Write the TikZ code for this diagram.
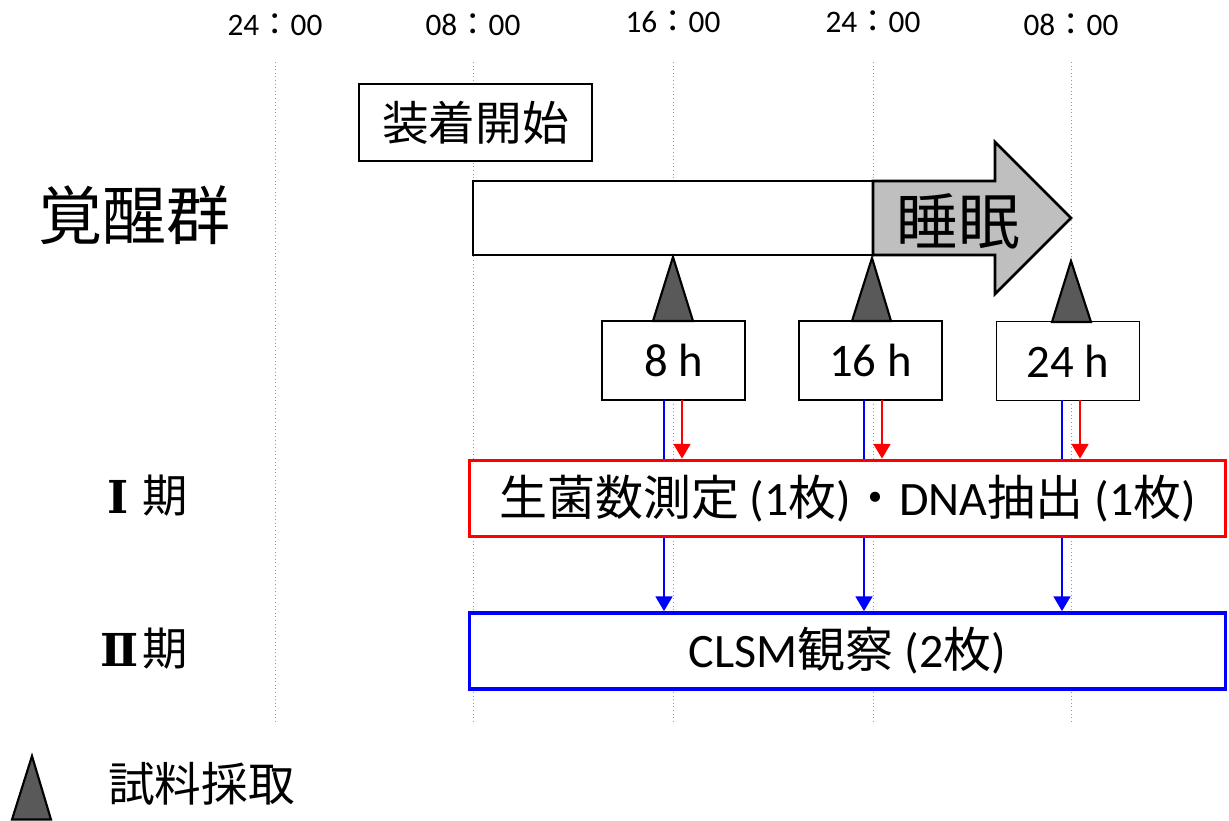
\documentclass[tikz,border=0pt]{standalone}
\usepackage{fontspec}
\usetikzlibrary{arrows.meta}
\setmainfont{Carlito}
\newfontfamily\cjk{Noto Sans CJK JP}
\newfontfamily\romnum{DejaVu Serif}
\newcommand\jp[1]{{\cjk #1}}
\begin{document}
\begin{tikzpicture}[x=0.75pt,y=-0.75pt,
  dotline/.style={draw=gray!80, dotted, line width=0.7pt},
  timelbl/.style={inner sep=0pt, font=\fontsize{23.5}{26}\selectfont},
  hourbox/.style={draw=black, line width=1.2pt, fill=white, inner sep=0pt,
    minimum width=107pt, minimum height=59pt, font=\fontsize{35}{40}\selectfont},
  startbox/.style={draw=black, line width=1.2pt, fill=white, inner sep=0pt,
    minimum width=175pt, minimum height=58pt, font=\cjk\fontsize{35}{40}\selectfont},
  phasebox/.style={line width=2.8pt, fill=white, inner sep=0pt,
    minimum width=567pt, minimum height=57pt, font=\fontsize{36}{40}\selectfont},
  sampletri/.style={draw=black, line width=1.6pt, fill=black!65, line join=miter},
  redarr/.style={draw=red, line width=1.8pt, -{Triangle[length=11pt,width=12.5pt]}},
  bluearr/.style={draw=blue, line width=1.8pt, -{Triangle[length=11pt,width=12.5pt]}},
  blueline/.style={draw=blue, line width=1.8pt},
  roman/.style={inner sep=0pt, font=\romnum\bfseries\fontsize{34}{38}\selectfont},
  ki/.style={inner sep=0pt, font=\cjk\fontsize{34}{38}\selectfont},
  lbl/.style={inner sep=0pt}]
\useasboundingbox (0,0) rectangle (1229,821);

% dotted time grid
\foreach \x/\n in {275/a,473/b,673/c,873/d,1071/e}{
  \coordinate (top\n) at (\x,62);
  \coordinate (bot\n) at (\x,722);
  \draw[dotline] (top\n) -- (bot\n);
}

% time labels
\node[timelbl] (ta) at (275,25) {24\jp{：}00};
\node[timelbl] (tb) at (473,25) {08\jp{：}00};
\node[timelbl] (tc) at (673,22) {16\jp{：}00};
\node[timelbl] (td) at (873,22) {24\jp{：}00};
\node[timelbl] (te) at (1071,25) {08\jp{：}00};

% group label
\node[lbl, font=\cjk\fontsize{48}{52}\selectfont] (grp) at (134,215) {覚醒群};

% start box
\node[startbox] (start) at (475.5,122.5) {装着開始};

% wake bar and sleep arrow
\draw[line width=2pt, fill=white] (473,181) rectangle (873,255);
\draw[line width=2pt, fill=black!25, line join=miter]
  (873,181) -- (995,181) -- (995,142) -- (1071,218) -- (995,294) -- (995,255) -- (873,255) -- cycle;
\node[lbl, font=\cjk\fontsize{46}{50}\selectfont] (sleep) at (958,221) {睡眠};

% hour boxes
\node[hourbox] (h8) at (673.5,360.5) {8 h};
\node[hourbox] (h16) at (870.5,360.5) {16 h};
\node[hourbox] (h24) at (1068,361) {24 h};

% sampling triangles
\draw[sampletri] (653,321) -- (673,257) -- (693,321) -- cycle;
\draw[sampletri] (852,321) -- (872,258) -- (891,321) -- cycle;
\draw[sampletri] (1052,322) -- (1071,261) -- (1091,322) -- cycle;

% phase boxes
\node[phasebox, draw=red] (p1) at (847.5,498.5)
  {\jp{生菌数測定} (1\jp{枚})\jp{・}DNA\jp{抽出} (1\jp{枚})};
\node[phasebox, draw=blue] (p2) at (847.5,651)
  {CLSM\jp{観察} (2\jp{枚})};

% phase labels
\node[roman] (r1) at (118.5,497) {Ⅰ};
\node[ki] (k1) at (165.5,496) {期};
\node[roman] (r2) at (119.5,650) {Ⅱ};
\node[ki] (k2) at (165.5,649) {期};

% arrows
\foreach \b/\r/\h in {664/682/h8, 864/882/h16, 1062/1080/h24}{
  \coordinate (bs\h) at (\b,400);
  \coordinate (rs\h) at (\r,400);
  \draw[blueline] (bs\h) -- (bs\h |- p1.north);
  \draw[bluearr] (bs\h |- p1.south) -- (bs\h |- p2.north);
  \draw[redarr] (rs\h) -- (rs\h |- p1.north);
}

% legend
\draw[sampletri] (12,819.5) -- (32,756) -- (51,819.5) -- cycle;
\node[lbl, anchor=west, font=\cjk\fontsize{35}{40}\selectfont] (leg) at (108,784) {試料採取};
\end{tikzpicture}
\end{document}
